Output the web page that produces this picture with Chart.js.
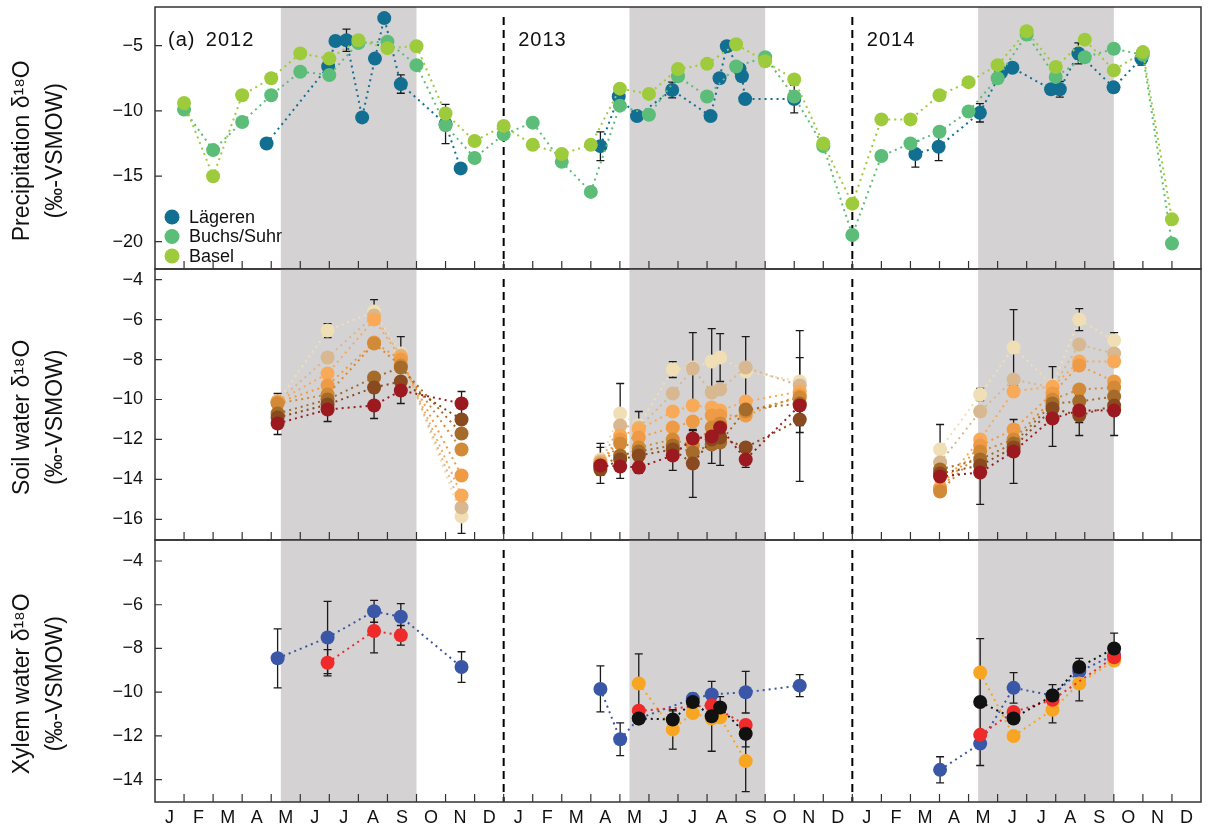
<!DOCTYPE html>
<html>
<head>
<meta charset="utf-8">
<script src="https://cdn.jsdelivr.net/npm/chart.js@4.4.1/dist/chart.umd.min.js"></script>
<style>
  html, body { margin: 0; padding: 0; background: #fff; }
  #wrap { position: relative; width: 1208px; height: 832px; }
  #wrap canvas { position: absolute; left: 0; top: 0; }
</style>
</head>
<body>
<div id="wrap">
  <canvas id="precipChart" width="1208" height="832"></canvas>
  <canvas id="soilChart" width="1208" height="832"></canvas>
  <canvas id="xylemChart" width="1208" height="832"></canvas>
</div>
<script>
// months are counted from 1 Jan 2012 (0) to 31 Dec 2014 (36)
const monthLabels = ['J', 'F', 'M', 'A', 'M', 'J', 'J', 'A', 'S', 'O', 'N', 'D'];
const yearLabels = ['2012', '2013', '2014'];
const growingSeasons = [[4.33, 9], [16.33, 21], [28.33, 33]];
const yearBreaks = [12, 24];

// precipitation
const precipMonths = [1, 2, 3, 4, 5, 6, 7, 8, 9, 10, 11, 12, 13, 14, 15, 16, 17, 18,
  19, 20, 21, 22, 23, 24, 25, 26, 27, 28, 29, 30, 31, 32, 33, 34, 35];
const baselValues = [-9.4, -15.0, -8.8, -7.5, -5.6, -6.0, -4.6, -5.2, -5.05, -10.2, -12.3, -11.15,
  -12.6, -13.3, -12.6, -8.3, -8.7, -6.8, -6.4, -4.9, -6.2, -7.6, -12.5, -17.1,
  -10.65, -10.65, -8.8, -7.8, -6.5, -3.9, -6.65, -4.55, -6.9, -5.5, -18.3];
const buchsValues = [-9.9, -13.0, -10.85, -8.8, -7.0, -7.25, -4.8, -4.7, -6.5, -11.1, -13.6, -11.8,
  -10.9, -13.9, -16.2, -9.6, -10.3, -7.35, -8.9, -6.6, -5.9, -8.9, -12.7, -19.5,
  -13.45, -12.5, -11.6, -10.05, -7.5, -4.15, -7.4, -5.9, -5.25, -5.7, -20.15];
const laegerenMonths = [3.84, 5.96, 6.21, 6.59, 7.13, 7.57, 7.89, 8.46, 10.0, 10.52,
  15.33, 15.96, 16.59, 17.8, 19.12, 19.43, 19.68, 20.12, 20.2, 20.31, 22.0,
  26.17, 26.97, 28.39, 29.12, 29.51, 30.84, 31.14, 31.78, 32.99, 33.95];
const laegerenValues = [-12.5, -6.6, -4.65, -4.6, -10.5, -6.0, -2.9, -7.95, -11.0, -14.4,
  -12.7, -8.9, -10.4, -8.4, -10.4, -7.5, -5.05, -6.8, -7.35, -9.1, -9.1,
  -13.3, -12.75, -10.15, -7.05, -6.7, -8.35, -8.35, -5.6, -8.2, -6.0];
const laegerenErrors = [0, 0, 0, 0.85, 0, 0, 0, 0.7, 1.5, 0,
  1.1, 0, 0, 0.6, 0, 0, 0, 0, 0, 0, 1.05,
  1.0, 1.05, 0.7, 0, 0, 0, 0.6, 0.8, 0, 0.5];

// soil water, layers from lightest to darkest colour
const soilDates = [4.22, 5.94, 7.54, 8.46, 10.55, 15.33, 16.01, 16.65, 17.82, 18.51,
  19.16, 19.45, 20.33, 22.19, 27.02, 28.4, 29.55, 30.89, 31.81, 33.01];
const soilLayer1 = [-10.1, -6.55, -5.6, -7.7, -15.85, -13.0, -10.7, -11.3, -8.5, -8.4,
  -8.1, -7.9, -8.6, -9.1, -12.5, -9.75, -7.4, -9.3, -6.0, -7.05];
const soilLayer2 = [-10.1, -7.9, -5.8, -7.8, -15.4, -13.1, -11.3, -11.4, -9.7, -8.45,
  -9.65, -9.5, -8.4, -9.3, -13.15, -10.6, -9.0, -9.4, -7.25, -7.7];
const soilLayer3 = [-10.1, -8.7, -6.0, -7.9, -14.8, -13.2, -11.8, -11.5, -10.6, -10.3,
  -10.4, -10.55, -10.1, -9.6, -14.4, -12.0, -9.6, -9.35, -8.1, -8.1];
const soilLayer4 = [-10.15, -9.3, -7.15, -8.0, -13.8, -13.2, -12.0, -11.9, -11.4, -11.1,
  -10.8, -10.8, -10.8, -9.8, -14.5, -12.3, -11.5, -9.7, -8.3, -9.1];
const soilLayer5 = [-10.2, -9.75, -7.2, -8.3, -12.5, -13.3, -12.2, -12.4, -12.0, -12.3,
  -11.4, -11.2, -10.6, -9.9, -14.6, -12.6, -12.0, -10.0, -9.5, -9.4];
const soilLayer6 = [-10.7, -10.0, -8.9, -8.4, -11.7, -13.4, -12.8, -12.6, -12.3, -12.65,
  -12.25, -12.15, -10.5, -10.2, -13.5, -13.0, -12.2, -10.2, -10.1, -9.85];
const soilLayer7 = [-10.9, -10.25, -9.4, -9.1, -11.0, -13.5, -13.0, -12.8, -12.5, -13.2,
  -12.0, -11.9, -12.4, -11.0, -13.7, -13.3, -12.4, -10.45, -10.8, -10.3];
const soilLayer8 = [-11.2, -10.5, -10.3, -9.55, -10.2, -13.3, -13.35, -13.4, -12.8, -11.95,
  -11.85, -11.4, -13.0, -10.3, -13.85, -13.65, -12.6, -10.95, -10.55, -10.55];
const soilLayer1Errors = [0.4, 0.35, 0.6, 0.85, 0.85, 0.8, 1.5, 0.7, 0.4, 1.75,
  1.65, 1.2, 1.75, 2.55, 1.25, 0.3, 1.9, 0.95, 0.55, 0.4];
const soilLayer7Errors = [0, 0, 0, 0, 0, 0, 0, 0, 0, 1.7,
  1.2, 1.4, 0, 3.1, 0, 0, 0, 0, 1.0, 0];
const soilLayer8Errors = [0.55, 0.6, 0.65, 0.65, 0.6, 0.9, 0.6, 0.3, 0.75, 0.4,
  0.5, 0.6, 0.4, 1.0, 0.5, 1.6, 1.6, 1.4, 0.6, 1.25];

// xylem water
const xylemBlueDates = [4.22, 5.94, 7.54, 8.46, 10.55, 15.33, 16.01, 16.65, 18.51, 19.16,
  20.33, 22.19, 27.02, 28.4, 29.55, 30.89, 31.81, 33.01];
const xylemBlueValues = [-8.45, -7.5, -6.3, -6.55, -8.85, -9.85, -12.15, -11.2, -10.3, -10.1,
  -10.0, -9.7, -13.55, -12.35, -9.8, -10.15, -9.05, -8.3];
const xylemBlueErrors = [1.35, 1.65, 0.5, 0.6, 0.7, 1.05, 0.75, 0, 0, 0,
  0.95, 0.5, 0.6, 0, 0.7, 0, 0, 0];
const xylemRedDates = [5.94, 7.54, 8.46, 16.65, 19.16, 20.33, 28.4, 29.55, 30.89, 33.01];
const xylemRedValues = [-8.65, -7.2, -7.4, -10.85, -10.6, -11.5, -11.95, -10.9, -10.35, -8.4];
const xylemRedErrors = [0.6, 1.0, 0.45, 0, 0, 0, 0, 0, 0, 0];
const xylemOrangeDates = [16.65, 17.82, 18.51, 19.16, 19.45, 20.33, 28.4, 29.55, 30.89, 31.81, 33.01];
const xylemOrangeValues = [-9.6, -11.7, -10.95, -11.2, -11.15, -13.15, -9.1, -12.0, -10.8, -9.6, -8.55];
const xylemOrangeErrors = [1.35, 0.9, 0, 0, 0, 1.4, 0, 0, 0.6, 0.8, 0];
const xylemBlackDates = [16.65, 17.82, 18.51, 19.16, 19.45, 20.33, 28.4, 29.55, 30.89, 31.81, 33.01];
const xylemBlackValues = [-11.2, -11.25, -10.45, -11.1, -10.7, -11.9, -10.45, -11.2, -10.15, -8.85, -8.0];
const xylemBlackErrors = [0, 0.4, 0.4, 1.6, 0.5, 0.6, 2.9, 0, 0.5, 0.4, 0.7];

const precipTicks = [-20, -15, -10, -5];
const soilTicks = [-16, -14, -12, -10, -8, -6, -4];
const xylemTicks = [-14, -12, -10, -8, -6, -4];

Chart.defaults.font.family = "'Liberation Sans', Arial, Helvetica, sans-serif";
Chart.defaults.color = '#111';

// build points, breaking the line between years when asked
function series(dates, values, errors, breakYears) {
  const pts = [], errs = [];
  dates.forEach((d, i) => {
    if (breakYears && i > 0 && Math.floor(d / 12) !== Math.floor(dates[i - 1] / 12)) {
      pts.push({ x: Math.floor(d / 12) * 12, y: null });
      errs.push(0);
    }
    pts.push({ x: d, y: values[i] });
    errs.push(errors ? errors[i] : 0);
  });
  return { pts, errs };
}

function dotted(label, color, s, order) {
  return {
    label, data: s.pts, errors: s.errs, order,
    showLine: true, spanGaps: false,
    borderColor: color, borderWidth: 2, borderDash: [2, 4],
    pointRadius: 7, pointBackgroundColor: color, pointBorderWidth: 0
  };
}

const panelDecor = {
  id: 'panelDecor',
  beforeDatasetsDraw(chart) {
    const { ctx, chartArea: a, scales: { x, y } } = chart;
    ctx.save();
    ctx.fillStyle = '#d4d2d3';
    growingSeasons.forEach(([s, e]) => {
      const x0 = x.getPixelForValue(s), x1 = x.getPixelForValue(e);
      ctx.fillRect(x0, a.top, x1 - x0, a.bottom - a.top);
    });
    ctx.strokeStyle = '#000';
    ctx.lineWidth = 2;
    ctx.setLineDash([8, 5]);
    yearBreaks.forEach(m => {
      const px = x.getPixelForValue(m);
      ctx.beginPath();
      ctx.moveTo(px, a.top + 10);
      ctx.lineTo(px, a.bottom);
      ctx.stroke();
    });
    ctx.setLineDash([]);
    // error bars
    ctx.strokeStyle = '#1a1a1a';
    ctx.lineWidth = 1.3;
    chart.data.datasets.forEach((ds, di) => {
      if (!ds.errors) return;
      const meta = chart.getDatasetMeta(di);
      ds.data.forEach((p, i) => {
        const e = ds.errors[i];
        if (!e || p.y == null) return;
        const px = meta.data[i].x;
        const top = y.getPixelForValue(p.y + e), bot = y.getPixelForValue(p.y - e);
        ctx.beginPath();
        ctx.moveTo(px, top); ctx.lineTo(px, bot);
        ctx.moveTo(px - 4, top); ctx.lineTo(px + 4, top);
        ctx.moveTo(px - 4, bot); ctx.lineTo(px + 4, bot);
        ctx.stroke();
      });
    });
    ctx.restore();
  },
  afterDraw(chart) {
    const { ctx, chartArea: a, scales: { x, y } } = chart;
    ctx.save();
    ctx.strokeStyle = '#333';
    ctx.lineWidth = 1.5;
    ctx.strokeRect(a.left, a.top, a.right - a.left, a.bottom - a.top);
    ctx.lineWidth = 1.2;
    ctx.beginPath();
    for (let m = 1; m < 36; m++) {
      const px = x.getPixelForValue(m);
      ctx.moveTo(px, a.bottom);
      ctx.lineTo(px, a.bottom - 8);
    }
    y.ticks.forEach(t => {
      const py = y.getPixelForValue(t.value);
      ctx.moveTo(a.left, py);
      ctx.lineTo(a.left + 7, py);
    });
    ctx.stroke();
    ctx.restore();
  }
};

// legend and year labels of the precipitation panel
const precipNotes = {
  id: 'precipNotes',
  afterDatasetsDraw(chart) {
    const { ctx, chartArea: a, scales: { x } } = chart;
    ctx.save();
    ctx.fillStyle = '#111';
    ctx.font = "20px 'Liberation Sans', Arial, sans-serif";
    ctx.letterSpacing = '1px';
    ctx.textBaseline = 'alphabetic';
    ctx.fillText('(a)', x.getPixelForValue(0.45), a.top + 39);
    yearLabels.forEach((t, i) => {
      ctx.fillText(t, x.getPixelForValue(i * 12 + (i === 0 ? 1.75 : 0.5)), a.top + 39);
    });
    ctx.letterSpacing = '0px';
    ctx.font = "18px 'Liberation Sans', Arial, sans-serif";
    ctx.textBaseline = 'middle';
    const keys = [chart.data.datasets[2], chart.data.datasets[1], chart.data.datasets[0]];
    keys.forEach((ds, i) => {
      const cy = a.bottom - 52 + i * 19.5;
      ctx.fillStyle = ds.pointBackgroundColor;
      ctx.beginPath();
      ctx.arc(a.left + 17, cy, 7.5, 0, Math.PI * 2);
      ctx.fill();
      ctx.fillStyle = '#111';
      ctx.fillText(ds.label, a.left + 34, cy + 1);
    });
    ctx.restore();
  }
};

const pad = '\u00a0\u00a0\u00a0\u00a0';

function yAxis(min, max, ticks, title) {
  return {
    min, max,
    afterBuildTicks: s => { s.ticks = ticks.map(v => ({ value: v })); },
    afterFit: s => { s.width = 155; s.paddingTop = 0; s.paddingBottom = 0; },
    grid: { display: false, drawTicks: false },
    border: { display: false },
    ticks: {
      padding: 12, color: '#111', font: { size: 18 },
      callback: v => (v < 0 ? '\u2212' : '') + Math.abs(v)
    },
    title: {
      display: true, text: title.map(t => t + pad), color: '#111',
      font: { size: 23, lineHeight: 1.45 }, padding: { top: 6, bottom: 0 }
    }
  };
}

function makePanel(id, datasets, yScale, padTop, padBottom, withMonths, plugins) {
  const scales = { x: { type: 'linear', min: 0, max: 36, display: false }, y: yScale };
  if (withMonths) {
    scales.xl = {
      type: 'linear', position: 'bottom', min: 0, max: 36,
      afterBuildTicks: s => { s.ticks = Array.from({ length: 36 }, (_, i) => ({ value: i + 0.5 })); },
      afterFit: s => { s.height = 30; },
      grid: { display: false, drawTicks: false },
      border: { display: false },
      ticks: {
        autoSkip: false, maxRotation: 0, padding: 5, color: '#111', font: { size: 18 },
        callback: (v, i) => monthLabels[i % 12]
      }
    };
  }
  return new Chart(document.getElementById(id), {
    type: 'scatter',
    data: { datasets },
    options: {
      responsive: false, animation: false, events: [],
      layout: { padding: { top: padTop, bottom: padBottom, left: 0, right: 6 } },
      plugins: { legend: { display: false }, tooltip: { enabled: false } },
      scales
    },
    plugins: [panelDecor].concat(plugins || [])
  });
}

makePanel('precipChart', [
  dotted('Basel', '#9dcb3b', series(precipMonths, baselValues), 1),
  dotted('Buchs/Suhr', '#5bbd78', series(precipMonths, buchsValues), 2),
  dotted('Lägeren', '#126f91', series(laegerenMonths, laegerenValues, laegerenErrors, true), 3)
], yAxis(-22.1, -2.05, precipTicks, ['Precipitation \u03b4\u00b9\u2078O', '(\u2030-VSMOW)']), 7, 563, false, [precipNotes]);

makePanel('soilChart', [
  dotted('Layer 8', '#9c1a1f', series(soilDates, soilLayer8, soilLayer8Errors, true), 1),
  dotted('Layer 7', '#8a4a1f', series(soilDates, soilLayer7, soilLayer7Errors, true), 2),
  dotted('Layer 6', '#a56b2b', series(soilDates, soilLayer6, null, true), 3),
  dotted('Layer 5', '#d38a37', series(soilDates, soilLayer5, null, true), 4),
  dotted('Layer 4', '#ef9b46', series(soilDates, soilLayer4, null, true), 5),
  dotted('Layer 3', '#f9aa58', series(soilDates, soilLayer3, null, true), 6),
  dotted('Layer 2', '#d7b890', series(soilDates, soilLayer2, null, true), 7),
  dotted('Layer 1', '#f0deb5', series(soilDates, soilLayer1, soilLayer1Errors, true), 8)
], yAxis(-17.03, -3.47, soilTicks, ['Soil water \u03b4\u00b9\u2078O', '(\u2030-VSMOW)']), 269, 292, false);

makePanel('xylemChart', [
  dotted('Black', '#111111', series(xylemBlackDates, xylemBlackValues, xylemBlackErrors, true), 1),
  dotted('Red', '#ee2a2a', series(xylemRedDates, xylemRedValues, xylemRedErrors, true), 2),
  dotted('Orange', '#f8a521', series(xylemOrangeDates, xylemOrangeValues, xylemOrangeErrors, true), 3),
  dotted('Blue', '#3a56a6', series(xylemBlueDates, xylemBlueValues, xylemBlueErrors, true), 4)
], yAxis(-15.02, -3.04, xylemTicks, ['Xylem water \u03b4\u00b9\u2078O', '(\u2030-VSMOW)']), 540, 0, true);
</script>
</body>
</html>
